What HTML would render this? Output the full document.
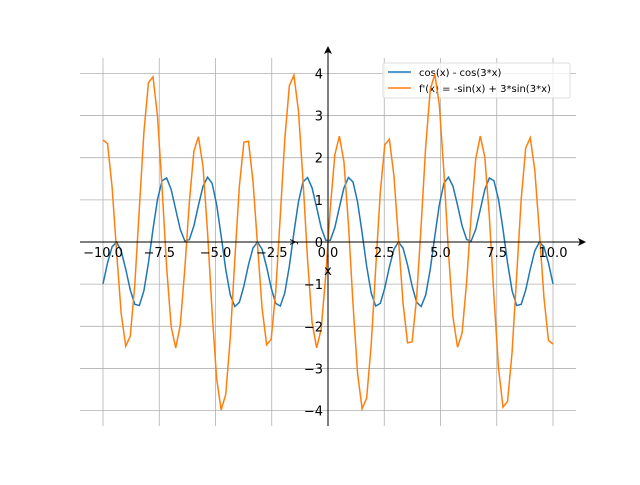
<!DOCTYPE html>
<html><head><meta charset="utf-8"><style>
body{margin:0;background:#fff}
svg text{font-family:"DejaVu Sans","Liberation Sans",sans-serif}
</style></head><body>
<svg id="s" width="640" height="480" xmlns="http://www.w3.org/2000/svg">
<g id="grid" stroke="#b0b0b0" stroke-width="0.8"></g>
<rect x="383" y="63" width="187" height="35" fill="#fff" fill-opacity="0.8" stroke="#ddd" rx="2"/>
<line x1="388" y1="72" x2="411" y2="72" stroke="#1f77b4" stroke-width="1.5"/>
<line x1="388" y1="88" x2="411" y2="88" stroke="#ff7f0e" stroke-width="1.5"/>
<text x="419" y="76" font-size="10">cos(x) - cos(3*x)</text>
<text x="419" y="92" font-size="10">f'(x) = -sin(x) + 3*sin(3*x)</text>
<g id="curves" fill="none" stroke-width="1.5"></g>
<g stroke="#000" stroke-width="1">
<line x1="80" y1="242" x2="580" y2="242"/>
<line x1="328" y1="426" x2="328" y2="52"/>
</g>
<path d="M586,242 L578,238 L580,242 L578,246 Z" fill="#000"/>
<path d="M328,46 L324,54 L328,52 L332,54 Z" fill="#000"/>
<g id="labels" font-size="13" fill="#000"></g>
<text x="328" y="275" font-size="13" text-anchor="middle">x</text>
<text x="292" y="246" font-size="11" text-anchor="middle" transform="rotate(-90 292 242)">y</text>
</svg>
<script>
var ns="http://www.w3.org/2000/svg";
function X(v){return 328+v*22.5}function Y(v){return 242-v*42.15}
var g=document.getElementById('grid'),L=document.getElementById('labels');
function el(p,t,a){var e=document.createElementNS(ns,t);for(var k in a)e.setAttribute(k,a[k]);p.appendChild(e);return e}
for(var i=-4;i<=4;i++){var x=X(i*2.5);el(g,'line',{x1:x,y1:58,x2:x,y2:426});
 var t=el(L,'text',{x:x,y:257,'text-anchor':'middle'});t.textContent=(i*2.5).toFixed(1).replace('-','\u2212');}
for(var j=-4;j<=4;j++){var y=Y(j);el(g,'line',{x1:80,y1:y,x2:576,y2:y});
 var t=el(L,'text',{x:323,y:y+5,'text-anchor':'end'});t.textContent=String(j).replace('-','\u2212');}
var c=document.getElementById('curves'),a='',b='';
for(var k=0;k<100;k++){var v=-10+20*k/99;
 a+=(k?'L':'M')+X(v).toFixed(2)+','+Y(Math.cos(v)-Math.cos(3*v)).toFixed(2);
 b+=(k?'L':'M')+X(v).toFixed(2)+','+Y(-Math.sin(v)+3*Math.sin(3*v)).toFixed(2);}
el(c,'path',{d:a,stroke:'#1f77b4'});el(c,'path',{d:b,stroke:'#ff7f0e'});
</script>
</body></html>
